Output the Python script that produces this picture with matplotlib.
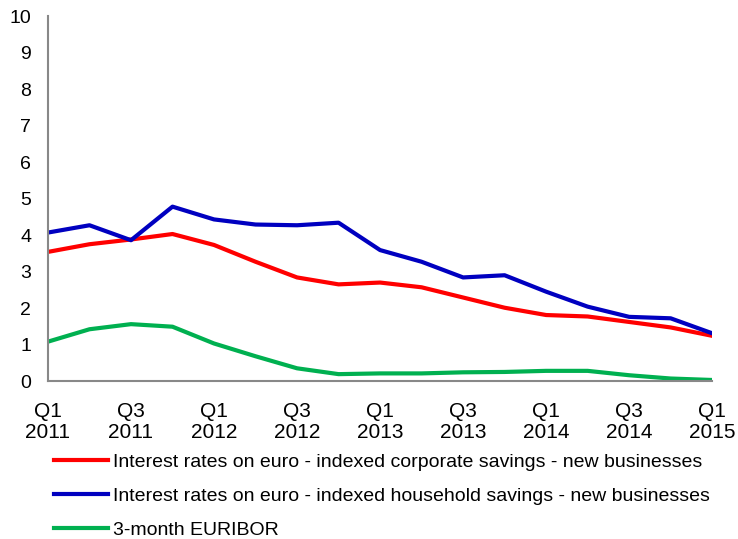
import matplotlib.pyplot as plt

plt.rcParams["font.family"] = ["Liberation Sans", "DejaVu Sans"]

quarters = [
    "Q1\n2011", "Q2\n2011", "Q3\n2011", "Q4\n2011",
    "Q1\n2012", "Q2\n2012", "Q3\n2012", "Q4\n2012",
    "Q1\n2013", "Q2\n2013", "Q3\n2013", "Q4\n2013",
    "Q1\n2014", "Q2\n2014", "Q3\n2014", "Q4\n2014",
    "Q1\n2015",
]
corporate = [3.54, 3.75, 3.88, 4.03, 3.73, 3.27, 2.84, 2.65, 2.70,
             2.57, 2.29, 2.01, 1.81, 1.77, 1.62, 1.47, 1.24]
household = [4.07, 4.27, 3.86, 4.78, 4.43, 4.29, 4.27, 4.34, 3.59,
             3.27, 2.84, 2.90, 2.45, 2.04, 1.76, 1.72, 1.31]
euribor = [1.08, 1.42, 1.56, 1.49, 1.03, 0.68, 0.35, 0.19, 0.21,
           0.21, 0.24, 0.25, 0.28, 0.28, 0.16, 0.07, 0.03]

labels = [
    "Interest rates on euro - indexed corporate savings - new businesses",
    "Interest rates on euro - indexed household savings - new businesses",
    "3-month EURIBOR",
]

fig = plt.figure(figsize=(7.38, 5.39), dpi=100)
ax = fig.add_axes([0.065, 0.293, 0.9, 0.677])

x = range(len(quarters))
ax.plot(x, corporate, color="#FF0000", lw=3, label=labels[0])
ax.plot(x, household, color="#0000C0", lw=3, label=labels[1])
ax.plot(x, euribor, color="#00B050", lw=3, label=labels[2])

ax.set_xlim(0, len(quarters) - 1)
ax.set_ylim(0, 10)
ax.set_yticks(range(0, 11))
ax.set_xticks(list(x)[::2])
ax.set_xticklabels(quarters[::2], linespacing=1.15)
ax.tick_params(axis="both", length=0, labelsize=14)
ax.tick_params(axis="x", pad=15, labelsize=15)
ax.tick_params(axis="y", pad=12)

for side in ("top", "right"):
    ax.spines[side].set_visible(False)
for side in ("left", "bottom"):
    ax.spines[side].set_color("#888888")
    ax.spines[side].set_linewidth(1.5)

# legend under the plot, one entry per row
fig.legend(loc="upper left", bbox_to_anchor=(0.065, 0.170), frameon=False,
           fontsize=14, handlelength=2.78, handletextpad=0.26,
           labelspacing=0.84, borderaxespad=0, borderpad=0.3)

fig.savefig("out.png", dpi=100)
